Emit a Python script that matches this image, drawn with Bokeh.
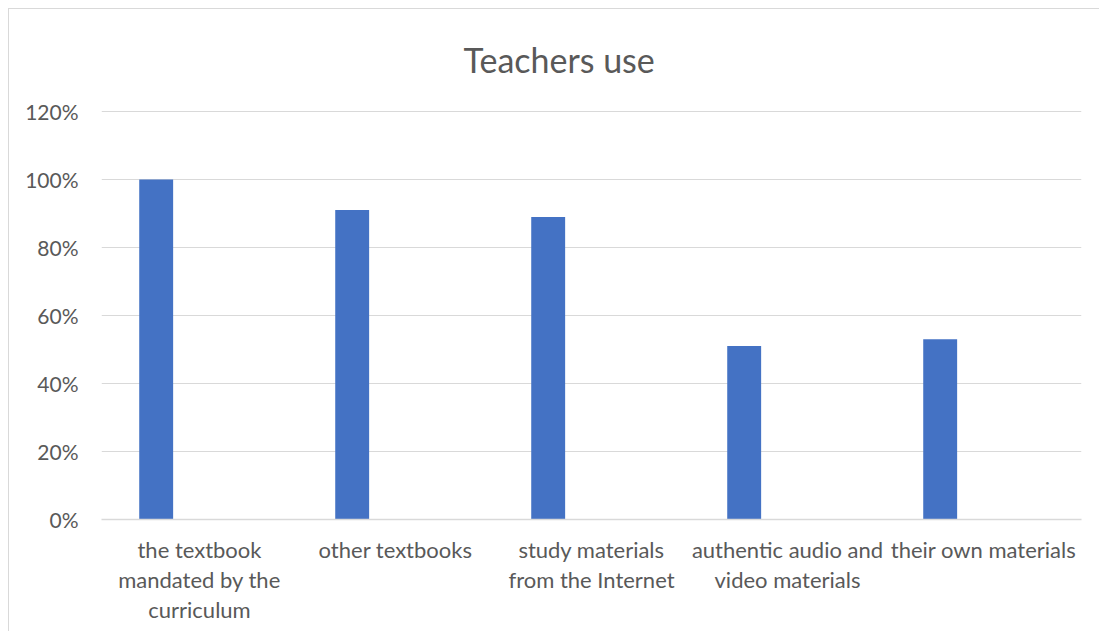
from bokeh.plotting import figure
from bokeh.models import ColumnDataSource, FixedTicker, NumeralTickFormatter, Range1d
from bokeh.embed import file_html
from bokeh.resources import INLINE

categories = [
    "the textbook\nmandated by the\ncurriculum",
    "other textbooks",
    "study materials\nfrom the Internet",
    "authentic audio and\nvideo materials",
    "their own materials",
]
values = [1.00, 0.91, 0.89, 0.51, 0.53]
y_ticks = [0, 0.2, 0.4, 0.6, 0.8, 1.0, 1.2]
title_text = "Teachers use"

FONT = "Lato"
TEXT = "#595959"
GRID = "#D9D9D9"

centers = [i + 0.5 for i in range(len(categories))]
bar_x = [c - 0.221 for c in centers]
src = ColumnDataSource(dict(x=bar_x, top=values))

p = figure(width=1091, height=623, output_backend="svg", toolbar_location=None,
           x_range=Range1d(0, len(categories)), y_range=Range1d(0, 1.203),
           min_border_left=92, min_border_right=19, min_border_top=99, min_border_bottom=113)
p.margin = (8, 0, 0, 8)
p.styles = {"border-left": "1px solid #D9D9D9", "border-top": "1px solid #D9D9D9"}
p.outline_line_color = None
p.background_fill_color = "white"
p.border_fill_color = "white"

p.title.text = title_text
p.title.align = "left"
p.title.vertical_align = "top"
p.title.offset = 362
p.title.text_font = FONT
p.title.text_font_size = "34px"
p.title.text_font_style = "normal"
p.title.text_color = TEXT
p.title.standoff = 58

p.vbar(x="x", top="top", width=0.173, bottom=0, source=src, fill_color="#4472C4", line_color=None)

# y axis
p.yaxis.ticker = FixedTicker(ticks=y_ticks)
p.yaxis.formatter = NumeralTickFormatter(format="0%")
p.yaxis.axis_line_color = None
p.yaxis.major_tick_line_color = None
p.yaxis.minor_tick_line_color = None
p.yaxis.major_tick_out = 0
p.yaxis.major_tick_in = 0
p.yaxis.major_label_standoff = 23
p.yaxis.major_label_text_font = FONT
p.yaxis.major_label_text_font_size = "21px"
p.yaxis.major_label_text_color = TEXT

# x axis
p.xaxis.ticker = FixedTicker(ticks=centers)
p.xaxis.major_label_overrides = {c: lab for c, lab in zip(centers, categories)}
p.xaxis.axis_line_color = GRID
p.xaxis.axis_line_width = 1.5
p.xaxis.major_tick_line_color = None
p.xaxis.minor_tick_line_color = None
p.xaxis.major_tick_out = 0
p.xaxis.major_tick_in = 0
p.xaxis.major_label_standoff = 16
p.xaxis.major_label_text_font = FONT
p.xaxis.major_label_text_font_size = "22px"
p.xaxis.major_label_text_color = TEXT
p.xaxis.major_label_text_line_height = 1.12

p.xgrid.grid_line_color = None
p.ygrid.ticker = FixedTicker(ticks=y_ticks)
p.ygrid.grid_line_color = GRID
p.ygrid.grid_line_width = 1

open("out.html", "w").write(file_html(p, INLINE))
